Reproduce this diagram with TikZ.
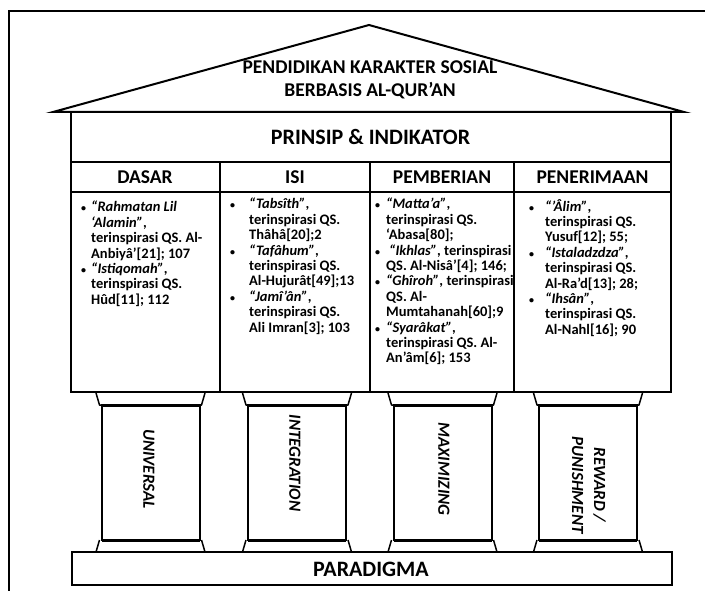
\documentclass[tikz,border=0pt]{standalone}
\usepackage{fontspec}
\setmainfont{Carlito}
\newcommand\bulletat[1]{\llap{\makebox[#1][l]{\fontsize{10}{10}\selectfont•}}}
\begin{document}
\begin{tikzpicture}[x=1pt,y=-1pt,
  frameline/.style={line width=2pt},
  thinline/.style={line width=1.1pt},
  capline/.style={line width=1.5pt},
  titletext/.style={font=\fontsize{19.5}{23}\selectfont\bfseries, align=center, inner sep=0pt},
  bigtext/.style={font=\fontsize{22}{26}\selectfont\bfseries, inner sep=0pt},
  hdr/.style={font=\fontsize{19.5}{23}\selectfont\bfseries, inner sep=0pt},
  body/.style={font=\fontsize{14.5}{15.4}\selectfont\bfseries, align=left, anchor=north west, inner sep=0pt},
  lbl/.style={font=\fontsize{17}{22}\selectfont\bfseries\itshape, rotate=-90, align=center, inner sep=0pt},
]
\useasboundingbox (0,0) rectangle (705,591);
\clip (0,0) rectangle (705,591);
% outer frame
\draw[frameline] (9,11) rectangle (760,640);
% roof
\draw[frameline, line join=miter] (53,112) -- (369,25) -- (684,112) -- cycle;
\node[titletext] (title) at (370,80) {PENDIDIKAN KARAKTER SOSIAL\\BERBASIS AL-QUR’AN};
% main box
\draw[frameline] (70.7,112) rectangle (671,392);
\node[bigtext] (prinsip) at (370.5,137) {PRINSIP \& INDIKATOR};
\draw[thinline] (70.7,162) -- (671,162);
\draw[thinline] (70.7,192) -- (671,192);
\foreach \x in {220,370,514} \draw[thinline] (\x,162) -- (\x,392);
\node[hdr] (h1) at (145,177) {DASAR};
\node[hdr] (h2) at (295,177) {ISI};
\node[hdr] (h3) at (442,177) {PEMBERIAN};
\node[hdr] (h4) at (592.5,177) {PENERIMAAN};
% body texts
\node[body] (c1) at (91,201) {\bulletat{10pt}\textit{“Rahmatan Lil}\\
\textit{‘Alamin”},\\
terinspirasi QS. Al-\\
Anbiyâ’[21]; 107\\
\bulletat{10pt}\textit{“Istiqomah”},\\
terinspirasi QS.\\
Hûd[11]; 112};
\node[body] (c2) at (249,198) {\bulletat{19pt}\textit{“Tabsîth”},\\
terinspirasi QS.\\
Thâhâ[20];2\\
\bulletat{19pt}\textit{“Tafâhum”},\\
terinspirasi QS.\\
Al-Hujurât[49];13\\
\bulletat{19pt}\textit{“Jamî’ân”},\\
terinspirasi QS.\\
Ali Imran[3]; 103};
\node[body] (c3) at (386,198) {\bulletat{11pt}\textit{“Matta’a”},\\
terinspirasi QS.\\
‘Abasa[80];\\
\bulletat{11pt}\hspace{3pt}\textit{“Ikhlas”}, terinspirasi\\
QS. Al-Nisâ’[4]; 146;\\
\bulletat{11pt}\textit{“Ghîroh”}, terinspirasi\\
QS. Al-\\
Mumtahanah[60];9\\
\bulletat{11pt}\textit{“Syarâkat”},\\
terinspirasi QS. Al-\\
An’âm[6]; 153};
\node[body] (c4) at (545,199) {\bulletat{16pt}\textit{“’Âlim”},\\
terinspirasi QS.\\
Yusuf[12]; 55;\\
\bulletat{16pt}\textit{“Istaladzdza”},\\
terinspirasi QS.\\
Al-Ra’d[13]; 28;\\
\bulletat{16pt}\textit{“Ihsân”},\\
terinspirasi QS.\\
Al-Nahl[16]; 90};
% pillars
\foreach \cx in {150.5,297,442.5,588}{
  \draw[capline, line join=round] (\cx-54.5,393) -- (\cx-51,405) -- (\cx+51,405) -- (\cx+54.5,393);
  \draw[line width=2pt] (\cx-49,405) rectangle (\cx+49,540);
  \draw[line width=3pt] (\cx-49,405) -- (\cx+49,405);
  \draw[line width=3pt] (\cx-49,540) -- (\cx+49,540);
  \draw[capline, line join=round] (\cx-51,540) -- (\cx-54.5,552) -- (\cx+54.5,552) -- (\cx+51,540);
}
\node[lbl] (p1) at (149,469) {UNIVERSAL};
\node[lbl] (p2) at (295,463) {INTEGRATION};
\node[lbl] (p3) at (444,469) {MAXIMIZING};
\node[lbl] (p4) at (589,485) {REWARD /\\PUNISHMENT};
% base slab
\draw[frameline] (71.7,552) rectangle (671.7,585);
\node[bigtext] (paradigma) at (371,569.5) {PARADIGMA};
\end{tikzpicture}
\end{document}
